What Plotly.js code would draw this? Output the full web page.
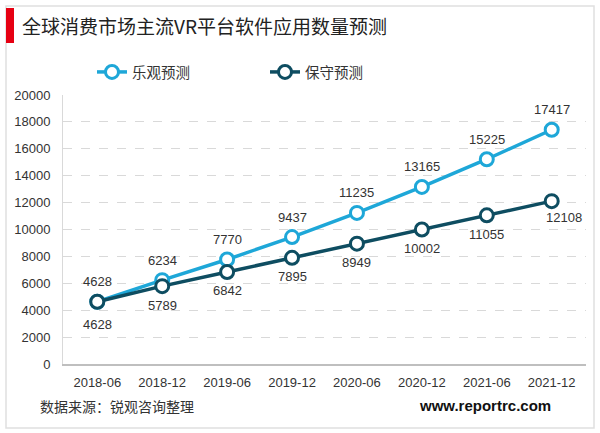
<!DOCTYPE html>
<html><head><meta charset="utf-8">
<script src="https://cdn.plot.ly/plotly-3.0.1.min.js"></script>
<style>html,body{margin:0;padding:0;background:#fff}#c{width:600px;height:433px}</style>
</head><body><div id="c"></div>
<script>
const categories = ['2018-06','2018-12','2019-06','2019-12','2020-06','2020-12','2021-06','2021-12'];
const optimistic = [4628, 6234, 7770, 9437, 11235, 13165, 15225, 17417];
const conservative = [4628, 5789, 6842, 7895, 8949, 10002, 11055, 12108];
const seriesNames = ['乐观预测', '保守预测'];
const yTicks = [0,2000,4000,6000,8000,10000,12000,14000,16000,18000,20000];

const L=63, R=14, T=95, B=69, W=600, H=433;
const pw = W-L-R, ph = H-T-B;
const px = x => (x-L)/pw;
const py = y => (H-B-y)/ph;

const cLight = '#1ea7d8', cDark = '#0e4d61';
const font = 'Liberation Sans, Arial, Noto Sans CJK SC, sans-serif';
const cjk = 'Noto Sans CJK SC, sans-serif';

const traces = [
 {x: categories, y: optimistic, name: seriesNames[0], type:'scatter', mode:'lines+markers',
  line:{color:cLight, width:3.5}, marker:{size:13, color:'#fff', line:{color:cLight, width:3}}, cliponaxis:false},
 {x: categories, y: conservative, name: seriesNames[1], type:'scatter', mode:'lines+markers',
  line:{color:cDark, width:3.5}, marker:{size:13, color:'#fff', line:{color:cDark, width:3}}, cliponaxis:false}
];

const labelFont = {size:13, color:'#333', family:font};
const valueLabels = [];
optimistic.forEach((v,i)=>valueLabels.push({x:categories[i], y:v, xref:'x', yref:'y', text:String(v), showarrow:false, yshift:20, font:labelFont}));
conservative.forEach((v,i)=>{
  const last = i===conservative.length-1;
  valueLabels.push({x:categories[i], y:v, xref:'x', yref:'y', text:String(v), showarrow:false,
    yshift: i===0 ? -23 : (last ? -16 : -19), xshift: last ? 12 : 0, font:labelFont});
});

const layout = {
 width:W, height:H, margin:{l:L, r:R, t:T, b:B}, paper_bgcolor:'#fff', plot_bgcolor:'#fff',
 showlegend:true,
 legend:{orientation:'h', x:px(92), y:py(56), xanchor:'left', yanchor:'top', font:{size:14.5, family:cjk, color:'#333'}, itemwidth:30, tracegroupgap:0, entrywidth:128},
 xaxis:{type:'category', showgrid:false, showline:true, linecolor:'#bfbfbf', linewidth:1.5, ticks:'', ticklabelstandoff:6, tickfont:{size:13, family:font, color:'#333'}, fixedrange:true},
 yaxis:{range:[0,20000], tickvals:yTicks, ticktext:yTicks.map(String), showgrid:true, gridcolor:'#d9d9d9', griddash:'dash', gridwidth:1,
  showline:true, linecolor:'#d9d9d9', zeroline:false, ticks:'', ticklabelstandoff:9, tickfont:{size:13, family:font, color:'#333'}, fixedrange:true},
 shapes:[
  {type:'rect', xref:'paper', yref:'paper', x0:px(6), x1:px(594), y0:py(428), y1:py(6), line:{color:'#e0e0e0', width:1.5}, fillcolor:'rgba(0,0,0,0)', layer:'below'},
  {type:'rect', xref:'paper', yref:'paper', x0:px(6), x1:px(14), y0:py(43), y1:py(8), line:{width:0}, fillcolor:'#e60012'}
 ],
 annotations: valueLabels.concat([
  {xref:'paper', yref:'paper', x:px(20), y:py(26), xanchor:'left', yanchor:'middle', showarrow:false, text:'全球消费市场主流VR平台软件应用数量预测', font:{size:19, family:cjk, color:'#222'}},
  {xref:'paper', yref:'paper', x:px(38), y:py(406), xanchor:'left', yanchor:'middle', showarrow:false, text:'数据来源：锐观咨询整理', font:{size:14, family:cjk, color:'#333'}},
  {xref:'paper', yref:'paper', x:px(553), y:py(405), xanchor:'right', yanchor:'middle', showarrow:false, text:'<b>www.reportrc.com</b>', font:{size:15, family:'Liberation Sans, Arial, sans-serif', color:'#111'}}
 ])
};
Plotly.newPlot('c', traces, layout, {displayModeBar:false, staticPlot:true});
</script></body></html>
